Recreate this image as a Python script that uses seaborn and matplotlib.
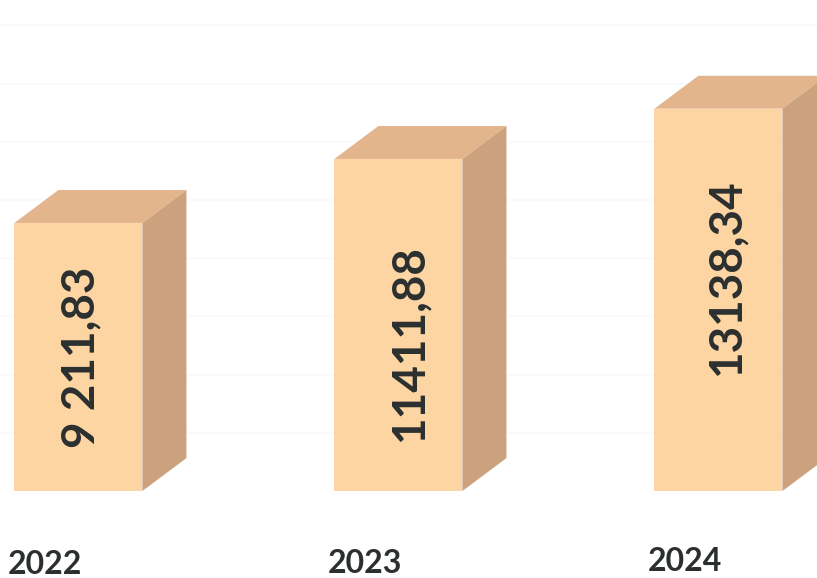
import matplotlib
matplotlib.use('Agg')
import matplotlib.pyplot as plt
import pandas as pd
import seaborn as sns

# Values
years = ['2022', '2023', '2024']
values = [9211.83, 11411.88, 13138.34]
value_labels = ['9 211,83', '11411,88', '13138,34']
grid_ticks = [2000, 4000, 6000, 8000, 10000, 12000, 14000, 16000]

FRONT = '#FDD5A3'
TOP = '#E2B58D'
SIDE = '#CCA17D'
TEXT = '#2B2F2F'

# 3D look of the boxes, in data units
DEPTH_X = 0.1375
DEPTH_Y = 1130

# Text placement (the scan is slightly tilted)
label_shift_x = [0.008, 0.033, 0.025]
label_height_frac = [0.5, 0.443, 0.557]
year_shift_x = [-0.105, -0.105, -0.105]
year_y = [-2540, -2490, -2440]

sns.set_theme(style='white')
plt.rcParams['font.family'] = ['Lato', 'DejaVu Sans']

df = pd.DataFrame({'year': years, 'value': values})

fig = plt.figure(figsize=(8.17, 5.78), dpi=100)
ax = fig.add_axes([0, 0, 1, 1])

sns.barplot(data=df, x='year', y='value', color=FRONT, saturation=1,
            width=0.4, linewidth=0, ax=ax, zorder=3)

ax.set_xlim(-0.245, 2.308)
ax.set_ylim(-2990, 16873)

# very faint gridlines behind the boxes
ax.set_yticks(grid_ticks)
ax.yaxis.grid(True, color='#FAFAFA', linewidth=1.5)
ax.set_axisbelow(True)
ax.set_xlabel('')
ax.set_ylabel('')
ax.tick_params(left=False, bottom=False, labelleft=False, labelbottom=False)
sns.despine(ax=ax, left=True, bottom=True)

# top and side faces built from the bars seaborn drew
for bar in ax.patches:
    x0 = bar.get_x()
    x1 = x0 + bar.get_width()
    h = bar.get_height()
    ax.fill([x0, x1, x1 + DEPTH_X, x0 + DEPTH_X],
            [h, h, h + DEPTH_Y, h + DEPTH_Y],
            color=TOP, linewidth=0, zorder=3)
    ax.fill([x1, x1 + DEPTH_X, x1 + DEPTH_X, x1],
            [0, DEPTH_Y, h + DEPTH_Y, h],
            color=SIDE, linewidth=0, zorder=3)

for i, label in enumerate(value_labels):
    ax.text(i + label_shift_x[i], values[i] * label_height_frac[i], label,
            rotation=90, ha='center', va='center', fontsize=33,
            fontweight='bold', color=TEXT, zorder=4)

for i, year in enumerate(years):
    ax.text(i + year_shift_x[i], year_y[i], year, ha='center', va='center',
            fontsize=23, fontweight='bold', color=TEXT)

fig.savefig('out.png', dpi=100)
